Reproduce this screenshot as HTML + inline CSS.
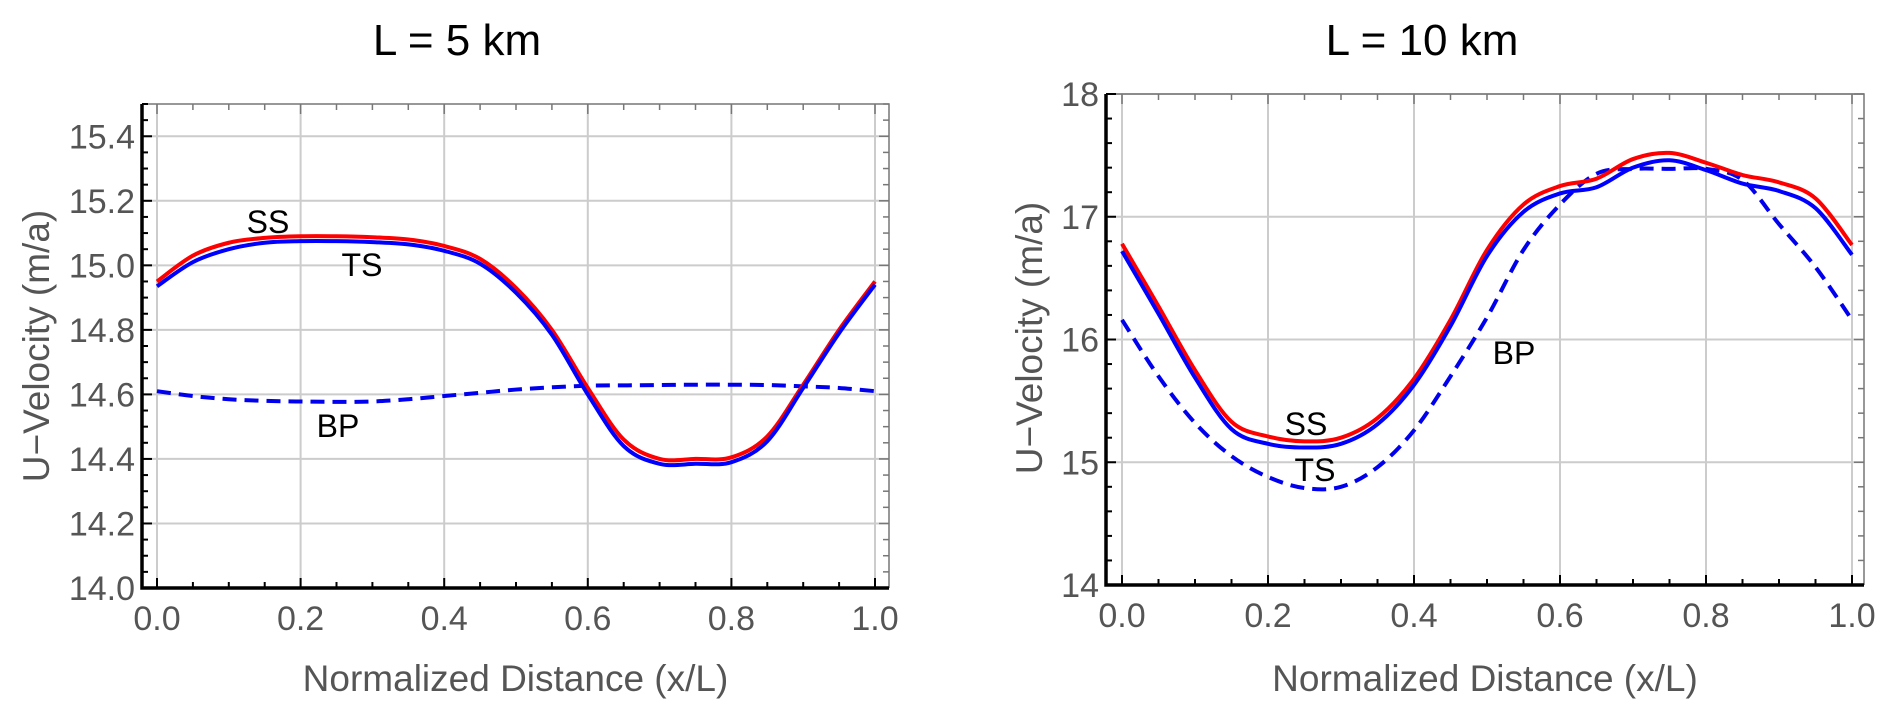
<!DOCTYPE html>
<html><head><meta charset="utf-8"><style>
body{margin:0;background:#fff}
svg{display:block}
text{font-family:"Liberation Sans",sans-serif}
</style></head><body>
<svg id="c" width="1892" height="719" xmlns="http://www.w3.org/2000/svg"></svg>
<script>
const xs=[0,0.05,0.1,0.15,0.2,0.25,0.3,0.35,0.4,0.45,0.5,0.55,0.6,0.65,0.7,0.75,0.8,0.85,0.9,0.95,1];
const ss5=[14.95,15.03,15.07,15.085,15.09,15.09,15.087,15.08,15.06,15.02,14.93,14.80,14.62,14.46,14.40,14.40,14.405,14.47,14.63,14.80,14.95];
const ts5=[14.935,15.01,15.05,15.07,15.075,15.075,15.072,15.065,15.045,15.005,14.915,14.785,14.60,14.44,14.385,14.385,14.39,14.455,14.62,14.79,14.94];
const bp5=[14.61,14.595,14.585,14.58,14.578,14.577,14.578,14.585,14.595,14.605,14.615,14.622,14.627,14.628,14.629,14.63,14.63,14.629,14.625,14.62,14.61];
const ss10=[16.78,16.27,15.75,15.33,15.21,15.17,15.2,15.36,15.68,16.16,16.73,17.1,17.25,17.31,17.47,17.52,17.44,17.34,17.28,17.15,16.77];
const ts10=[16.72,16.21,15.69,15.27,15.15,15.12,15.15,15.31,15.63,16.11,16.68,17.04,17.19,17.24,17.4,17.46,17.38,17.27,17.21,17.07,16.69];
const bp10=[16.16,15.7,15.32,15.05,14.88,14.79,14.8,14.96,15.26,15.7,16.18,16.73,17.1,17.35,17.39,17.39,17.39,17.3,16.94,16.59,16.16];
const xTicks=[0,0.2,0.4,0.6,0.8,1.0];
const yTicks5=[14.0,14.2,14.4,14.6,14.8,15.0,15.2,15.4];
const yTicks10=[14,15,16,17,18];

const NS="http://www.w3.org/2000/svg";
const svg=document.getElementById('c');
function mk(tag,attrs,parent){const e=document.createElementNS(NS,tag);for(const k in attrs)e.setAttribute(k,attrs[k]);(parent||svg).appendChild(e);return e;}
function smooth(pts){let d=`M${pts[0][0]},${pts[0][1]}`;
  for(let i=0;i<pts.length-1;i++){const p0=pts[Math.max(0,i-1)],p1=pts[i],p2=pts[i+1],p3=pts[Math.min(pts.length-1,i+2)];
    const c1=[p1[0]+(p2[0]-p0[0])/6,p1[1]+(p2[1]-p0[1])/6],c2=[p2[0]-(p3[0]-p1[0])/6,p2[1]-(p3[1]-p1[1])/6];
    d+=` C${c1[0]},${c1[1]} ${c2[0]},${c2[1]} ${p2[0]},${p2[1]}`;}
  return d;}

function panel(p){
  const g=mk('g',{});
  
  
  const X=v=>p.x0+v*(p.x1-p.x0);
  const Y=v=>p.yb-(v-p.ymin)*(p.yb-p.yt)/(p.ymax-p.ymin);
  xTicks.forEach(t=>{const l=mk('line',{x1:X(t),x2:X(t),y1:p.yt,y2:p.yb,stroke:'#ccc','stroke-width':2},g);});
  p.yTicks.forEach(t=>{const l=mk('line',{x1:p.fl,x2:p.fr,y1:Y(t),y2:Y(t),stroke:'#ccc','stroke-width':2},g);});
  mk('polyline',{points:`${p.fl},${p.yt} ${p.fr},${p.yt} ${p.fr},${p.yb}`,fill:'none',stroke:'#777','stroke-width':1.5},g);
  for(let i=0;i<=20;i++){const v=i*0.05;const maj=i%4===0;const len=maj?10:6;
    mk('line',{x1:X(v),x2:X(v),y1:p.yb,y2:p.yb-len,stroke:'#000','stroke-width':2},g);
    mk('line',{x1:X(v),x2:X(v),y1:p.yt,y2:p.yt+len,stroke:'#777','stroke-width':1.5},g);}
  for(let v=p.ymin;v<=p.ymax+1e-9;v+=p.minor){const maj=p.yTicks.some(t=>Math.abs(t-v)<1e-6);const len=maj?10:6;
    mk('line',{x1:p.fl,x2:p.fl+len,y1:Y(v),y2:Y(v),stroke:'#000','stroke-width':2},g);
    mk('line',{x1:p.fr,x2:p.fr-len,y1:Y(v),y2:Y(v),stroke:'#777','stroke-width':1.5},g);}
  const ax=mk('polyline',{points:`${p.fl},${p.yt} ${p.fl},${p.yb} ${p.fr},${p.yb}`,fill:'none',stroke:'#000','stroke-width':3.5},g);
  
  xTicks.forEach(t=>{const e=mk('text',{x:X(t),y:p.yb+42,'text-anchor':'middle','font-size':34,fill:'#555'},g);e.textContent=t.toFixed(1);});
  p.yTicks.forEach(t=>{const e=mk('text',{x:p.fl-7,y:Y(t)+12,'text-anchor':'end','font-size':34,fill:'#555'},g);e.textContent=p.fmt(t);});
  const xt=mk('text',{x:(p.fl+p.fr)/2,y:691,'text-anchor':'middle','font-size':37,fill:'#555'},g);xt.textContent='Normalized Distance (x/L)';
  
  const yt=mk('text',{x:0,y:0,'text-anchor':'middle','font-size':37,fill:'#555',transform:`translate(${p.ytx},${p.yty}) rotate(-90)`},g);yt.textContent='U\u2212Velocity (m/a)';
  
  const tt=mk('text',{x:p.tx,y:55,'text-anchor':'middle','font-size':44,fill:'#000'},g);tt.textContent=p.title;
  
  const line=(arr,col,dash,nm)=>{const e=mk('path',{d:smooth(arr.map((v,i)=>[X(xs[i]),Y(v)])),fill:'none',stroke:col,'stroke-width':4,'stroke-linejoin':'round'},g);
    if(dash)e.setAttribute('stroke-dasharray','14 8');};
  line(p.bp,'#0000ee',true,'bp-line');
  line(p.ss,'#ff0000',false,'ss-line');
  line(p.ts,'#0000ff',false,'ts-line');
  p.labels.forEach(l=>{const e=mk('text',{x:l[1],y:l[2]+11,'text-anchor':'middle','font-size':32,fill:'#000'},g);e.textContent=l[0];});
}
panel({name:'panel-l5',x0:157,x1:875,fl:142,fr:889,yt:104,yb:588,ymin:14.0,ymax:15.5,minor:0.05,yTicks:yTicks5,fmt:t=>t.toFixed(1),ss:ss5,ts:ts5,bp:bp5,ytx:49,yty:346,tx:457,title:'L = 5 km',labels:[['SS',268,222],['TS',362,265],['BP',338,426]]});
panel({name:'panel-l10',x0:1122,x1:1852,fl:1106,fr:1864,yt:94,yb:585,ymin:14,ymax:18,minor:0.2,yTicks:yTicks10,fmt:t=>String(t),ss:ss10,ts:ts10,bp:bp10,ytx:1042,yty:338,tx:1422,title:'L = 10 km',labels:[['SS',1306,424],['TS',1315,470],['BP',1514,353]]});
</script>
</body></html>
